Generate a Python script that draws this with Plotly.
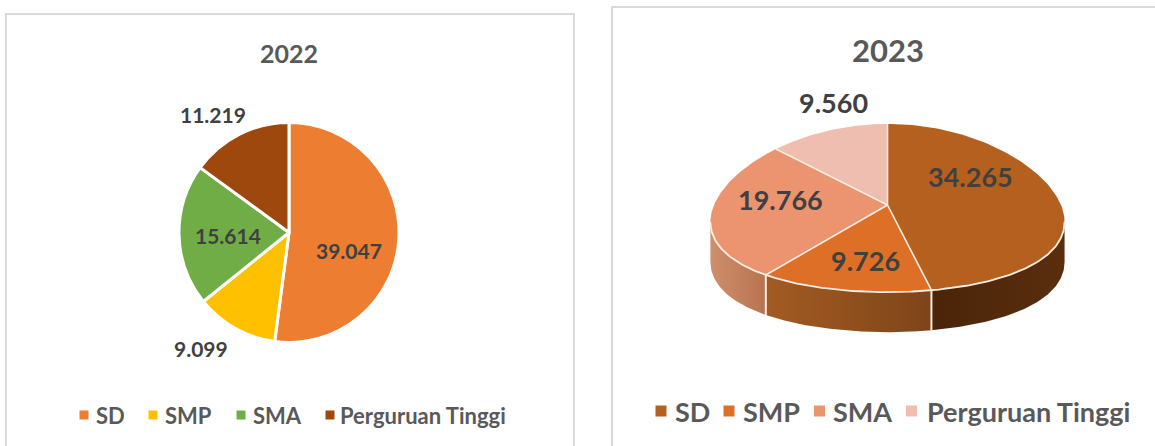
import numpy as np
import plotly.graph_objects as go

W, H = 1155, 446
categories = ["SD", "SMP", "SMA", "Perguruan Tinggi"]
values_2022 = [39047, 9099, 15614, 11219]
values_2023 = [34265, 9726, 19766, 9560]
colors_2022 = ["#ED7D31", "#FFC000", "#70AD47", "#9E480E"]
colors_2023 = ["#B5601F", "#DD6F27", "#EC9470", "#F0BEB0"]
wall_2023 = [["#4A2409", "#5A2E0E"], ["#A35B22", "#7E4519"], ["#CF8F6C", "#B87350"], ["#CF8F6C", "#CF8F6C"]]

TEXT = "#404040"
MUTED = "#595959"
EDGE = "#FBEFE6"
FONT = "Lato"


def fmt(v):
    return f"{v:,}".replace(",", ".")


# tilted-pie projection of the 2023 chart (screen px)
CX, CY, A, B, K_X, K_Y, DEPTH = 887.5, 205, 173.5, 84, 0.2, 0.036, 40


def rim(theta):
    """theta: radians clockwise from twelve o'clock, radius 1."""
    x, y = np.sin(theta), -np.cos(theta)
    return CX + A * x / (1 - K_X * y), CY + B * y / (1 - K_Y * y)


fig = go.Figure()

# 2022 flat pie
fig.add_trace(go.Pie(
    labels=categories, values=values_2022, sort=False, direction="clockwise", rotation=0,
    marker=dict(colors=colors_2022, line=dict(color="white", width=3)),
    textinfo="none", showlegend=False, hoverinfo="label+value",
    domain=dict(x=[179 / W, 399 / W], y=[1 - 342.5 / H, 1 - 122.5 / H]),
))

# 2023 tilted pie
frac = np.array(values_2023) / sum(values_2023)
edges = np.concatenate([[0], np.cumsum(frac)]) * 2 * np.pi
wall_from, wall_to = np.arccos(-K_X), 2 * np.pi - np.arccos(-K_X)

for i, cat in enumerate(categories):
    lo, hi = max(edges[i], wall_from), min(edges[i + 1], wall_to)
    if hi <= lo:
        continue
    t = np.linspace(lo, hi, 80)
    xs, ys = rim(t)
    fig.add_trace(go.Scatter(
        x=np.concatenate([xs, xs[::-1]]), y=np.concatenate([ys, ys[::-1] + DEPTH]),
        mode="lines", fill="toself", line=dict(width=0), hoverinfo="skip", showlegend=False,
        fillgradient=dict(type="horizontal", colorscale=[[0, wall_2023[i][0]], [1, wall_2023[i][1]]]),
    ))

for e in edges[1:3]:
    ex, ey = rim(np.array([e]))
    fig.add_trace(go.Scatter(
        x=[ex[0], ex[0]], y=[ey[0], ey[0] + DEPTH], mode="lines",
        line=dict(color=EDGE, width=2), hoverinfo="skip", showlegend=False,
    ))

for i, cat in enumerate(categories):
    t = np.linspace(edges[i], edges[i + 1], 120)
    xs, ys = rim(t)
    fig.add_trace(go.Scatter(
        x=np.concatenate([[CX], xs, [CX]]), y=np.concatenate([[CY], ys, [CY]]),
        mode="lines", fill="toself", fillcolor=colors_2023[i],
        line=dict(width=0), name=cat, showlegend=False,
        hovertext=f"{cat}: {fmt(values_2023[i])}", hoverinfo="text",
    ))

# spokes between the 2023 slices, and the bright front edge of the top face
for e in edges[:-1]:
    ex, ey = rim(np.array([e]))
    fig.add_trace(go.Scatter(x=[CX, ex[0]], y=[CY, ey[0]], mode="lines",
                             line=dict(color=EDGE, width=1.6), hoverinfo="skip", showlegend=False))
front_x, front_y = rim(np.linspace(wall_from, wall_to, 200))
fig.add_trace(go.Scatter(x=front_x, y=front_y, mode="lines",
                         line=dict(color=EDGE, width=1.8), hoverinfo="skip", showlegend=False))

# hand-built legends
swatch_2022 = [84, 153, 241, 330]
label_x_2022 = [94, 163, 251, 338]
swatch_2023 = [661, 729, 819.5, 911.5]
label_x_2023 = [673, 741, 831, 925]

for i, cat in enumerate(categories):
    fig.add_trace(go.Scatter(x=[swatch_2022[i]], y=[415], mode="markers", showlegend=False, hoverinfo="skip",
                             marker=dict(symbol="square", size=9, color=colors_2022[i])))
    fig.add_trace(go.Scatter(x=[swatch_2023[i]], y=[411], mode="markers", showlegend=False, hoverinfo="skip",
                             marker=dict(symbol="square", size=11, color=colors_2023[i])))


def note(x, y, text, size, color, anchor="center"):
    fig.add_annotation(x=x, y=y, text=text, showarrow=False, xanchor=anchor, yanchor="middle",
                       xref="x", yref="y",
                       font=dict(family=FONT, size=size, color=color, weight=700))


note(289, 53, "2022", 25, MUTED)
note(888, 50, "2023", 31, MUTED)

for v, (x, y) in zip(values_2022, [(349, 250), (201, 348), (228, 235), (213, 114)]):
    note(x, y, fmt(v), 21, TEXT)
for v, (x, y) in zip(values_2023, [(970, 176), (865, 260), (780, 199), (833, 102)]):
    note(x, y, fmt(v), 27, TEXT)
for i, cat in enumerate(categories):
    note(label_x_2022[i], 415, cat, 22, MUTED, "left")
    note(label_x_2023[i], 411, cat, 27, MUTED, "left")

fig.update_layout(
    width=W, height=H, margin=dict(l=0, r=0, t=0, b=0), autosize=False,
    paper_bgcolor="white", plot_bgcolor="white", showlegend=False,
    xaxis=dict(visible=False, range=[0, W], fixedrange=True),
    yaxis=dict(visible=False, range=[H, 0], fixedrange=True),
    shapes=[
        dict(type="rect", xref="x", yref="y", x0=6, x1=574, y0=14, y1=470,
             line=dict(color="#D9D9D9", width=2), layer="below"),
        dict(type="rect", xref="x", yref="y", x0=612, x1=1190, y0=7, y1=470,
             line=dict(color="#D9D9D9", width=2), layer="below"),
    ],
)

fig.write_html("out.html", config={"displayModeBar": False},
               post_script="document.body.style.margin='0';document.body.style.overflow='hidden';")
